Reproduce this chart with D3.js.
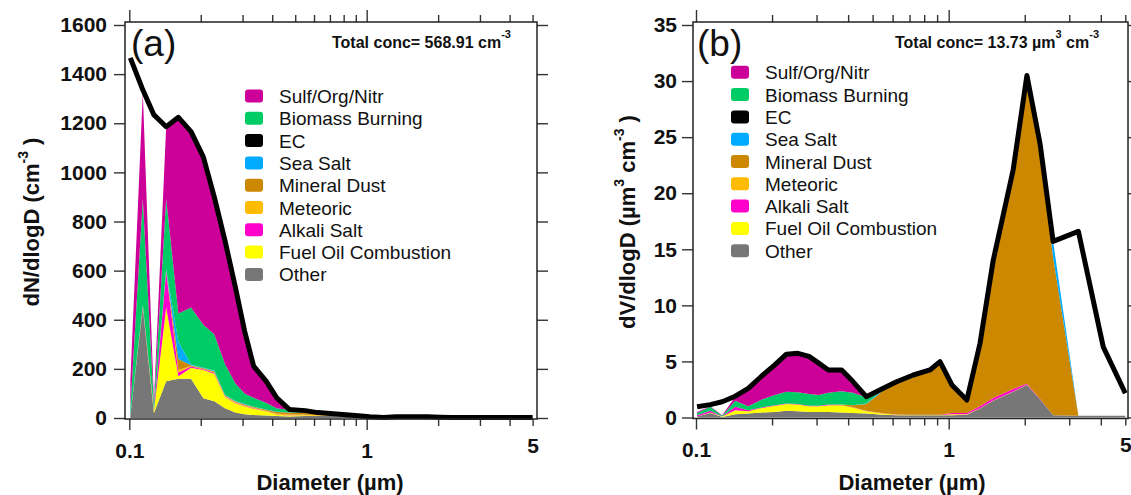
<!DOCTYPE html>
<html><head><meta charset="utf-8">
<script src="https://cdn.jsdelivr.net/npm/d3@7"></script>
<style>
body{margin:0;background:#fff}
svg{display:block}
text{font-family:"Liberation Sans",Arial,sans-serif}
</style>
</head><body>
<svg id="chart" width="1131" height="495"></svg>
<script>
// ---------------- data ----------------
const diameters = [0.101,0.114,0.127,0.143,0.161,0.182,0.205,0.228,0.253,0.280,0.306,0.334,0.377,0.418,0.472,0.551,0.622,0.724,0.843,0.924,1.03,1.18,1.33,1.50,1.80,2.04,2.30,2.59,3.26,4.09,5.00];

const speciesNames = ["Sulf/Org/Nitr","Biomass Burning","EC","Sea Salt","Mineral Dust","Meteoric","Alkali Salt","Fuel Oil Combustion","Other"];
const speciesColors = ["#cc0099","#00cc66","#000000","#00aaff","#cc8800","#ffbb00","#ff00cc","#ffff00","#777777"];

// panel (a): dN/dlogD (cm^-3)
const sulfA  = [110,433,15,293,799,716,683,559,502,391,254,129,88,42,2,0,0,0,0,0,0,0,0,0,0,0,0,0,0,0,0];
const bioA   = [32,431,20,287,115,232,175,148,125,71,43,36,27,15,10,0,0,0,0,0,0,0,0,0,0,0,0,0,0,0,0];
const ecA    = [0,0,0,0,0,0,0,0,0,0,0,0,0,0,0,0,0,0,0,0,0,0,0,0,0,0,0,0,0,0,0];
const seaA   = [0,0,0,3,70,3,2,3,2,2,2,1,1,1,1,0,0,0,0,0,0,0,0,0,0,0,0,0,0,0,0];
const dustA  = [0,0,0,3,45,3,3,4,3,3,3,3,4,6,8,7,5,2,0,0,0,0,0,0,0,0,0,0,0,0,0];
const metA   = [0,0,0,4,10,2,2,2,2,2,2,2,2,3,4,3,3,1,0,0,0,0,0,0,0,0,0,0,0,0,0];
const alkA   = [3,5,5,146,15,5,3,4,3,2,2,2,1,1,1,0,0,0,0,0,0,0,0,0,0,0,0,0,0,0,0];
const fuelA  = [0,5,10,300,10,45,115,112,45,38,33,26,17,6,3,2,1,0,0,0,0,0,0,0,0,0,0,0,0,0,0];
const otherA = [5,450,20,150,160,160,80,68,40,22,15,12,10,8,6,8,8,8,6,5,3,2,3,3,3,3,2,2,2,2,2];
const totalA = [1466,1336,1234,1186,1224,1166,1063,900,722,531,354,211,150,82,35,30,22,17,12,9,5,2,5,5,5,3,2,2,2,2,2];

// panel (b): dV/dlogD (um^3 cm^-3)
const sulfB  = [0.1,0.05,0.05,0.35,1.55,2.1,2.65,3.3,3.45,3.3,2.8,2.0,1.85,0.95,0,0,0,0,0,0,0,0,0,0,0,0,0,0,0,0,0];
const bioB   = [0.2,0.35,0.05,0.55,0.35,0.7,0.9,1.05,1.05,1.05,0.95,1.05,1.2,1.1,0.55,0,0,0,0,0,0,0,0,0,0,0,0,0,0,0,0];
const ecB    = [0,0,0,0,0,0,0,0,0,0,0,0,0,0,0,0,0,0,0,0,0,0,0,0,0,0,0,0,0,0,0];
const seaB   = [0,0,0,0,0,0,0,0,0,0,0,0,0,0,0.05,0.15,0.15,0.1,0.08,0.05,0.03,0.02,0.05,0.1,0.15,0.2,0.4,1.4,0,0,0];
const dustB  = [0,0,0,0,0,0,0,0,0,0,0,0,0.03,0.18,0.6,2.03,2.73,3.36,3.86,4.66,2.45,1.1,5.5,12.05,19.25,26.6,22.25,14.1,0,0,0];
const metB   = [0,0,0,0,0,0,0,0,0,0,0,0,0,0,0.03,0,0,0,0,0,0,0,0,0,0,0,0,0,0,0,0];
const alkB   = [0.1,0.15,0.02,0.3,0.1,0.05,0.05,0.05,0.05,0.05,0.05,0.05,0.02,0.02,0.02,0.02,0.02,0.02,0.02,0.02,0.1,0.12,0.18,0.23,0.23,0.08,0.05,0,0,0,0];
const fuelB  = [0,0.05,0.03,0.35,0.2,0.4,0.55,0.6,0.6,0.5,0.5,0.6,0.65,0.5,0.2,0.1,0.05,0.02,0.02,0.02,0.1,0.03,0.02,0.02,0.02,0.02,0,0,0,0,0];
const otherB = [0.1,0.4,0.05,0.3,0.35,0.45,0.5,0.6,0.55,0.5,0.5,0.5,0.45,0.4,0.35,0.25,0.2,0.2,0.2,0.2,0.2,0.25,0.8,1.5,2.3,2.9,1.6,0.2,0.15,0.15,0.15];
const totalB = [0.96,1.15,1.4,1.9,2.6,3.7,4.7,5.65,5.72,5.45,4.85,4.24,4.24,3.2,1.86,2.6,3.19,3.79,4.24,4.98,2.9,1.56,6.6,14.0,22.1,30.5,24.4,15.7,16.6,6.3,2.16];

const xTicksMajor = [0.1, 1];
const xTicksMinor = [0.2,0.3,0.4,0.5,0.6,0.7,0.8,0.9,2,3,4,5];
const xTickLabels = [0.1, 1, 5];
const yTicksA = [0,200,400,600,800,1000,1200,1400,1600];
const yTicksB = [0,5,10,15,20,25,30,35];

// ---------------- drawing ----------------
const svg = d3.select("#chart");
const colorOf = {};
speciesNames.forEach((n,i)=>colorOf[n]=speciesColors[i]);
const stackKeys = speciesNames.slice().reverse(); // Other at bottom

function drawPanel(cfg){
  const g = svg.append("g");
  const x = d3.scaleLog().domain([0.1,5]).range([cfg.x01, cfg.x5]);
  const y = d3.scaleLinear().domain([0, cfg.ymax]).range([cfg.y0, cfg.ytop]);

  const rows = diameters.map((d,i)=>{
    const r = {d:d};
    speciesNames.forEach((n,k)=>{ r[n] = cfg.series[k][i]; });
    return r;
  });
  const layers = d3.stack().keys(stackKeys)(rows);
  const area = d3.area().x(d=>x(d.data.d)).y0(d=>y(d[0])).y1(d=>y(d[1]));
  g.append("g").selectAll("path").data(layers).join("path")
    .attr("fill", d=>colorOf[d.key]).attr("d", area);

  const line = d3.line().x((d,i)=>x(diameters[i])).y(d=>y(d));
  g.append("path").datum(cfg.total)
    .attr("fill","none").attr("stroke","#000").attr("stroke-width",5)
    .attr("stroke-linejoin","round").attr("d", line);

  const F = cfg.frame;
  const axStroke = "#333";
  function styleAxis(sel){
    sel.select(".domain").remove();
    sel.selectAll(".tick line").attr("stroke", axStroke).attr("stroke-width",1.4);
    sel.selectAll("text").attr("fill","#111").attr("font-weight","bold")
      .attr("font-size",21).attr("font-family","'Liberation Sans',Arial,sans-serif");
  }
  // bottom
  g.append("g").attr("transform",`translate(0,${F.bottom})`)
    .call(d3.axisBottom(x).tickValues(xTicksMajor).tickSize(11).tickFormat("")).call(styleAxis);
  g.append("g").attr("transform",`translate(0,${F.bottom})`)
    .call(d3.axisBottom(x).tickValues(xTicksMinor).tickSize(7).tickFormat("")).call(styleAxis);
  const bl = g.append("g").attr("transform",`translate(0,${F.bottom})`)
    .call(d3.axisBottom(x).tickValues(xTickLabels).tickSize(0).tickPadding(24).tickFormat(d=>String(d)))
    .call(styleAxis);
  bl.selectAll(".tick").filter(d=>d===5).select("text").attr("y",19);
  // top
  g.append("g").attr("transform",`translate(0,${F.top})`)
    .call(d3.axisTop(x).tickValues(xTicksMajor).tickSize(12).tickFormat("")).call(styleAxis);
  g.append("g").attr("transform",`translate(0,${F.top})`)
    .call(d3.axisTop(x).tickValues(xTicksMinor).tickSize(7).tickFormat("")).call(styleAxis);
  // left
  g.append("g").attr("transform",`translate(${F.left},0)`)
    .call(d3.axisLeft(y).tickValues(cfg.yTicks).tickSize(11).tickPadding(cfg.yPad).tickFormat(d=>String(d)))
    .call(styleAxis);
  // right
  g.append("g").attr("transform",`translate(${F.right},0)`)
    .call(d3.axisRight(y).tickValues(cfg.yTicks).tickSize(11).tickFormat("")).call(styleAxis);

  // frame
  g.append("rect").attr("x",F.left).attr("y",F.top)
    .attr("width",F.right-F.left).attr("height",F.bottom-F.top)
    .attr("fill","none").attr("stroke","#222").attr("stroke-width",1.5);

  // x title
  g.append("text").attr("x",cfg.xTitleX).attr("y",490).attr("text-anchor","middle")
    .attr("font-size",22).attr("font-weight","bold").attr("fill","#111")
    .text("Diameter (\u00b5m)");

  // y title
  const yt = g.append("text")
    .attr("transform",`translate(${cfg.yTitleX},222) rotate(-90)`)
    .attr("text-anchor","middle").attr("font-size",22).attr("font-weight","bold").attr("fill","#111");
  cfg.yTitle.forEach(p=>{
    const t = yt.append("tspan").text(p.t);
    if(p.sup){ t.attr("font-size",14).attr("dy",-11); }
    else if(p.after){ t.attr("dy",11); }
  });

  // panel tag
  g.append("text").attr("x",cfg.tagX).attr("y",56).attr("font-family","Lato,'Open Sans',sans-serif")
    .attr("font-size",37).attr("fill","#111").text(cfg.tag);

  // total conc
  const tc = g.append("text").attr("x",cfg.concX).attr("y",48)
    .attr("font-size",16).attr("font-weight","bold").attr("fill","#111");
  cfg.conc.forEach(p=>{
    const t = tc.append("tspan").text(p.t);
    if(p.sup){ t.attr("font-size",11).attr("dy",-10); }
    else if(p.after){ t.attr("dy",10); }
  });

  // legend
  const lg = g.append("g");
  speciesNames.forEach((n,i)=>{
    const cy = cfg.legY + i*22.3;
    lg.append("rect").attr("x",cfg.legX).attr("y",cy-6.5).attr("width",18).attr("height",13)
      .attr("rx",3).attr("fill",speciesColors[i]);
    lg.append("text").attr("x",cfg.legX+34).attr("y",cy+7).attr("font-size",19).attr("fill","#111").text(n);
  });
}

drawPanel({
  x01:129.3, x5:532.6, y0:418, ytop:25, ymax:1600,
  frame:{left:125,right:537,top:22,bottom:419},
  yTicks:yTicksA, yPad:7,
  series:[sulfA,bioA,ecA,seaA,dustA,metA,alkA,fuelA,otherA], total:totalA,
  xTitleX:330, yTitleX:39,
  yTitle:[{t:"dN/dlogD (cm"},{t:"-3",sup:true},{t:" )",after:true}],
  tag:"(a)", tagX:131,
  concX:332, conc:[{t:"Total conc= 568.91 cm"},{t:"-3",sup:true}],
  legX:245, legY:96
});

drawPanel({
  x01:696, x5:1125.3, y0:417.5, ytop:25, ymax:35,
  frame:{left:693,right:1128,top:22,bottom:418.5},
  yTicks:yTicksB, yPad:5,
  series:[sulfB,bioB,ecB,seaB,dustB,metB,alkB,fuelB,otherB], total:totalB,
  xTitleX:912, yTitleX:635,
  yTitle:[{t:"dV/dlogD (\u00b5m"},{t:"3",sup:true},{t:" cm",after:true},{t:"-3",sup:true},{t:" )",after:true}],
  tag:"(b)", tagX:697,
  concX:895, conc:[{t:"Total conc= 13.73 \u00b5m"},{t:"3",sup:true},{t:" cm",after:true},{t:"-3",sup:true}],
  legX:731, legY:72.3
});
</script>
</body></html>
